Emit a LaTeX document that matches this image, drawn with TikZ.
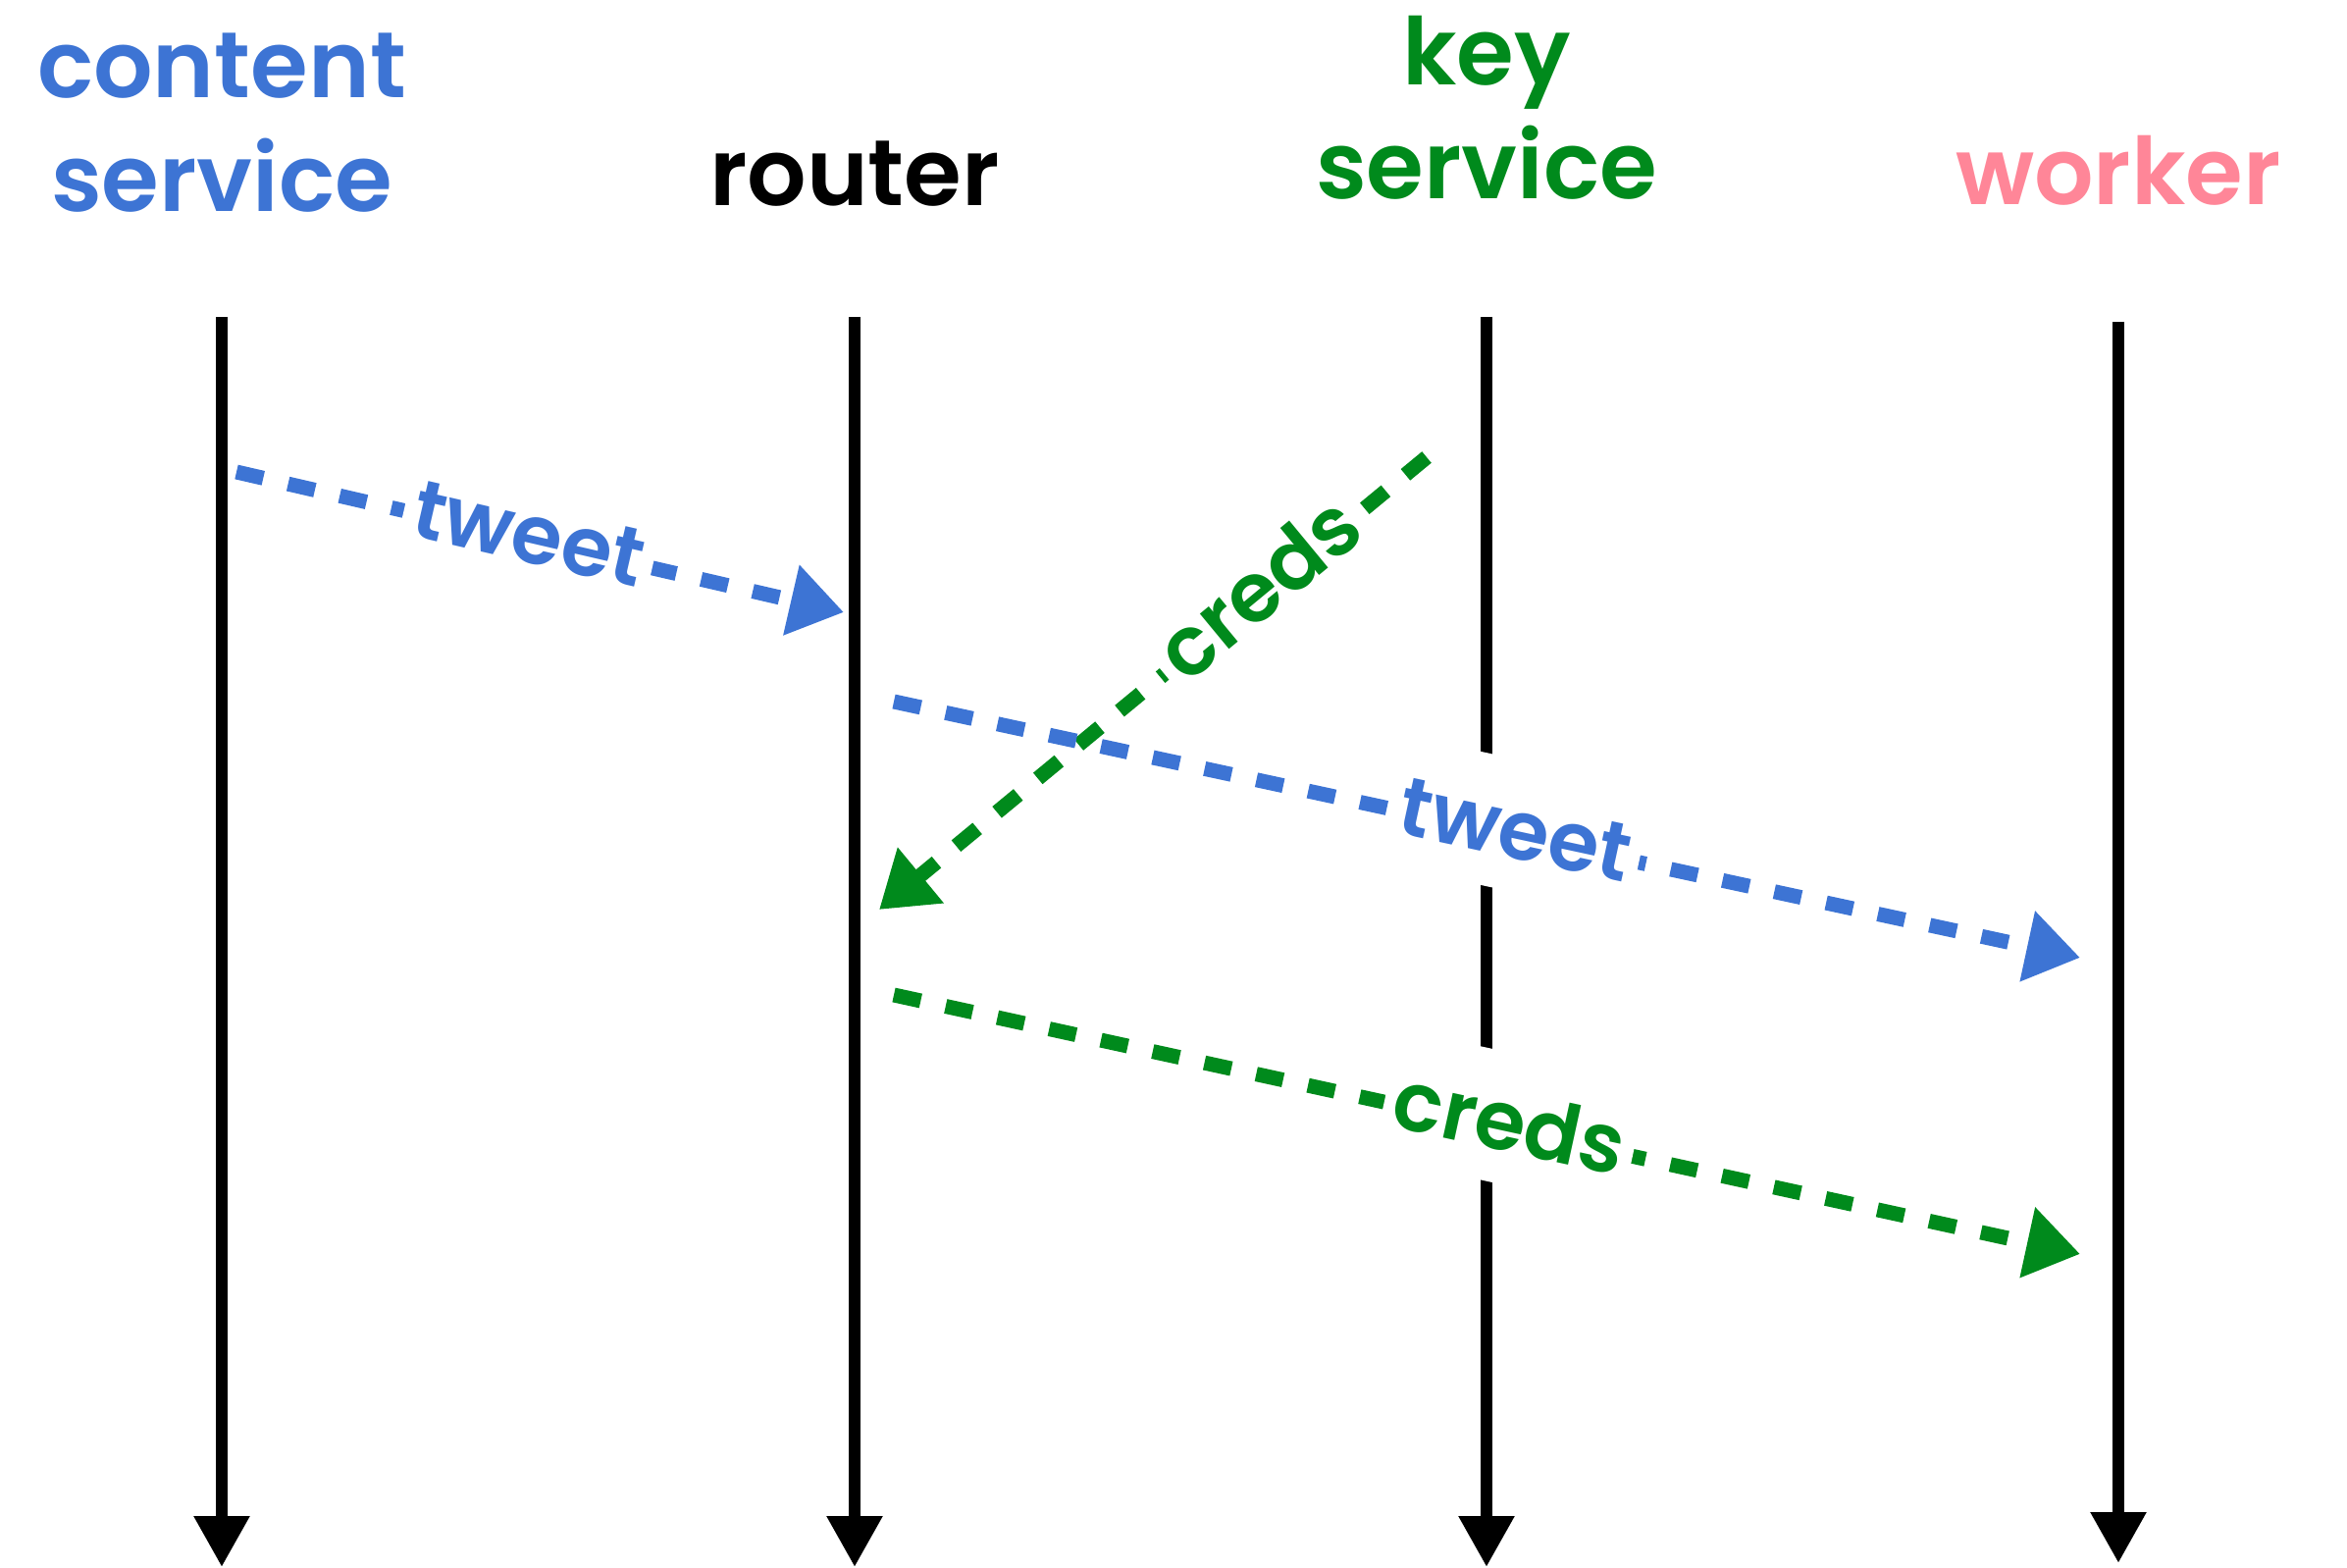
\documentclass[tikz,border=0pt]{standalone}
\usepackage{fontspec}
\setmainfont{Poppins SemiBold}
\usetikzlibrary{arrows.meta}
\definecolor{svcblue}{RGB}{61,116,212}
\definecolor{keygreen}{RGB}{0,138,28}
\definecolor{workpink}{RGB}{255,134,152}
\begin{document}
\begin{tikzpicture}[x=0.5pt,y=-0.5pt,
  hdr/.style={align=center, inner sep=0pt, anchor=south, font=\fontsize{47.5}{58}\selectfont},
  life/.style={line width=6pt, -{Triangle[length=26pt,width=27pt]}},
  msg/.style={line width=7.5pt, dash pattern=on 14pt off 13pt, -{Triangle[length=27.5pt,width=35pt]}},
  lbl/.style={fill=white, sloped, inner xsep=5pt, inner ysep=2pt,
    text height=47.75pt, text depth=14.75pt, yshift=5pt,
    font=\fontsize{42}{50}\selectfont}]
\useasboundingbox (0,0) rectangle (2392,1598);

% participants
\node[hdr, text=svcblue]  (hcs) at (226,217)  {content\\service};
\node[hdr, text=black]    (hrt) at (871,211)  {router};
\node[hdr, text=keygreen] (hks) at (1515,204) {key\\service};
\node[hdr, text=workpink] (hwk) at (2159,210) {worker};

% lifelines
\coordinate (cs top) at (226,323);  \coordinate (cs bot) at (226,1597);
\coordinate (rt top) at (871,323);  \coordinate (rt bot) at (871,1597);
\coordinate (ks top) at (1515,323); \coordinate (ks bot) at (1515,1597);
\coordinate (wk top) at (2159,328); \coordinate (wk bot) at (2159,1593);
\draw[life] (cs top) -- (cs bot);
\draw[life] (rt top) -- (rt bot);
\draw[life] (ks top) -- (ks bot);
\draw[life] (wk top) -- (wk bot);

% messages
\coordinate (m1s) at (241,481);  \coordinate (m1e) at (860,624);
\coordinate (m2s) at (1454,466); \coordinate (m2e) at (896,927);
\coordinate (m3s) at (911,715);  \coordinate (m3e) at (2120,976);
\coordinate (m4s) at (911,1014); \coordinate (m4e) at (2120,1278);

\draw[msg, svcblue]  (m1s) -- node[lbl, pos=0.48]  (l1) {tweet} (m1e);
\draw[msg, keygreen] (m2s) -- node[lbl, pos=0.30]  (l2) {creds} (m2e);
\draw[msg, svcblue]  (m3s) -- node[lbl, pos=0.523] (l3) {tweet} (m3e);
\draw[msg, keygreen] (m4s) -- node[lbl, pos=0.518] (l4) {creds} (m4e);
\end{tikzpicture}
\end{document}
